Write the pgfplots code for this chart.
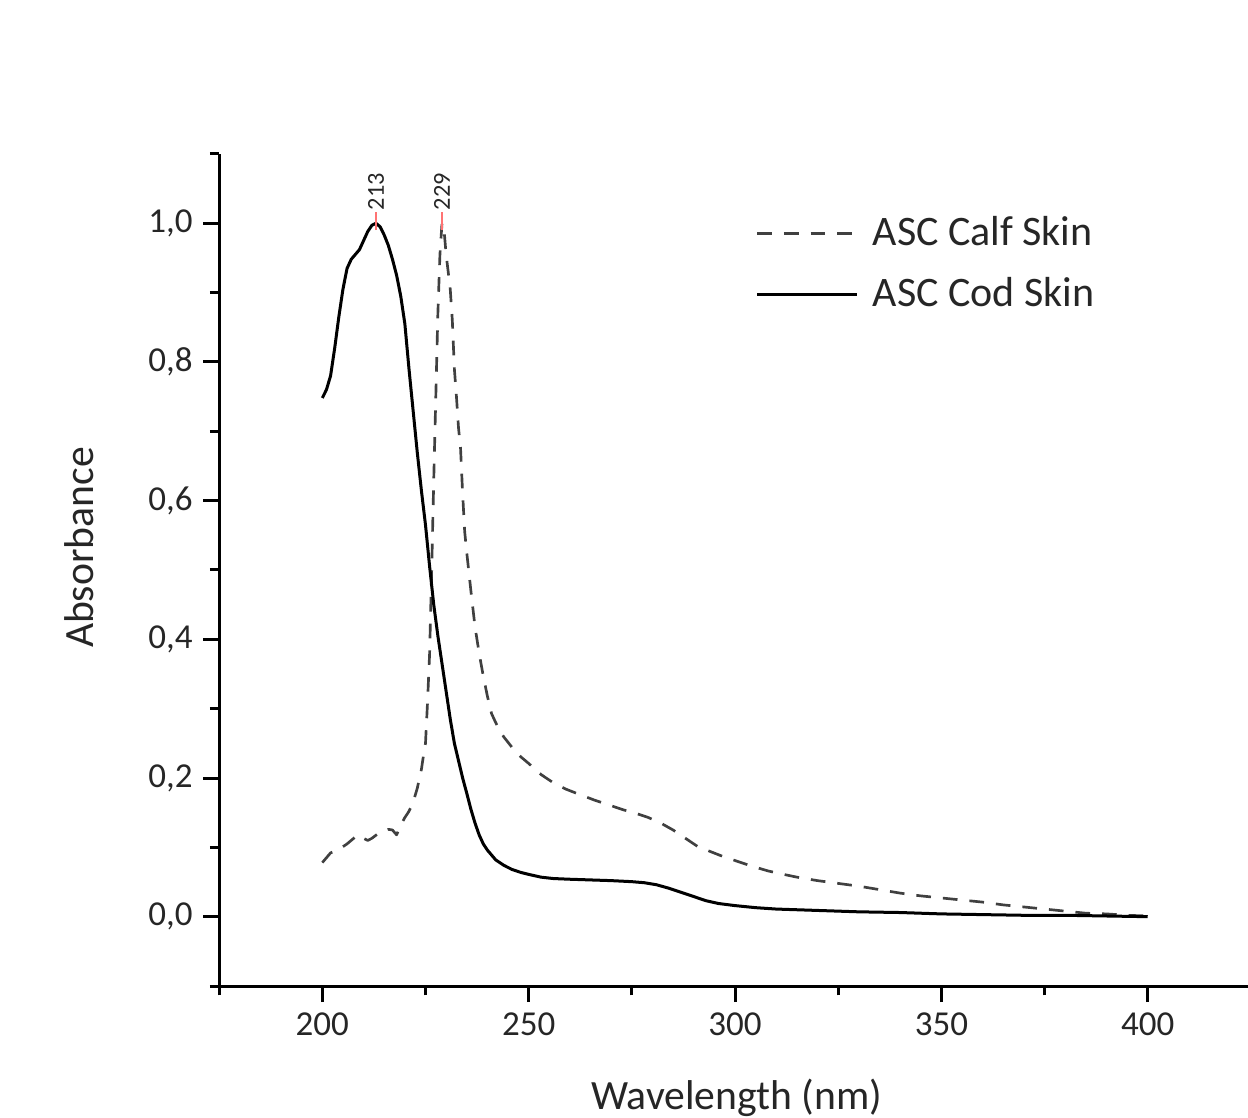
\documentclass[border=0pt]{standalone}
\usepackage{pgfplots}
\pgfplotsset{compat=1.18}
\usepackage{fontspec}
\setmainfont{Carlito}
\begin{document}
\begin{tikzpicture}
\begin{axis}[
  x=1.2381pt, y=208.02pt,
  xmin=175, xmax=425, ymin=-0.1, ymax=1.1,
  axis x line=bottom, axis y line=left,
  axis line style={-, line width=0.9pt, black},
  xtick={200,250,300,350,400}, minor xtick={175,225,275,325,375,425},
  ytick={0,0.2,0.4,0.6,0.8,1.0}, minor ytick={-0.1,0.1,0.3,0.5,0.7,0.9,1.1},
  tick align=outside,
  major tick length=4.8pt, minor tick length=2.8pt,
  every tick/.style={black, line width=0.9pt},
  /pgf/number format/assume math mode=true,
  yticklabel style={/pgf/number format/.cd, fixed, fixed zerofill, precision=1, use comma},
  xticklabel style={/pgf/number format/.cd, fixed, precision=0, 1000 sep={}},
  tick label style={font=\fontsize{10.5}{12}\selectfont, text=black!85},
  tick label style={inner sep=3pt},
  xlabel={Wavelength (nm)}, ylabel={Absorbance},
  label style={font=\fontsize{12.5}{15}\selectfont, text=black!85},
  xlabel style={at={(axis description cs:0.5015,-0.148)}, anchor=base},
  ylabel style={at={(axis description cs:-0.122,0.527)}, anchor=base, rotate=0},
  legend style={draw=none, fill=none, at={(axis description cs:0.5194,0.9255)}, anchor=north west,
    inner xsep=0pt, inner ysep=0pt, font=\fontsize{12.6}{15}\selectfont, text=black!85,
    nodes={inner sep=0pt}, row sep=7.9pt, column sep=4.2pt},
  legend cell align=left,
  legend image code/.code={\draw[#1] (0pt,0pt) -- (30pt,0pt);},
  clip=false,
]
\addplot[black!75, line width=0.8pt, dash pattern=on 4.4pt off 3.6pt, line join=round] coordinates {
(200,0.078)(201,0.085)(202,0.092)(204,0.097)(206,0.105)(208,0.115)(209,0.118)(210,0.113)(211,0.110)(212,0.113)(214,0.122)(216,0.126)(217,0.125)(218,0.118)(219,0.132)(220,0.143)(221,0.152)(222,0.165)(223,0.185)(224,0.212)(224.5,0.232)(225,0.25)(225.5,0.31)(226,0.38)(226.5,0.5)(227,0.63)(227.5,0.75)(228,0.87)(228.5,0.955)(229,1.0)
(229.5,0.99)(230,0.955)(230.5,0.93)(231,0.905)(231.5,0.86)(232,0.79)(232.5,0.75)(233,0.705)(233.5,0.675)(234,0.61)(234.5,0.555)(235,0.525)(236,0.47)(237,0.418)(238,0.38)(239,0.347)(240,0.318)(241,0.293)(242,0.28)(243,0.268)(244,0.259)(246,0.244)(248,0.231)(250,0.221)(253,0.205)(256,0.193)(259,0.184)(262,0.177)(266,0.168)(270,0.16)(273,0.154)(276,0.149)(279,0.143)(282,0.135)(285,0.125)(288,0.113)(291,0.101)(294,0.094)(297,0.087)(300,0.081)(304,0.073)(308,0.066)(311,0.062)(315,0.057)(320,0.052)(325,0.048)(330,0.044)(335,0.039)(340,0.034)(345,0.030)(350,0.027)(355,0.024)(360,0.021)(365,0.017)(370,0.014)(375,0.011)(380,0.008)(385,0.005)(390,0.004)(395,0.002)(400,0.001)
};
\addlegendentry{ASC Calf Skin}
\addplot[black, line width=0.9pt, line join=round] coordinates {
(200,0.748)(201,0.76)(202,0.78)(203,0.82)(204,0.865)(205,0.905)(206,0.935)(207,0.948)(208,0.955)(209,0.962)(210,0.975)(211,0.988)(212,0.997)(213,1.000)(214,0.995)(215,0.983)(216,0.968)(217,0.948)(218,0.925)(219,0.895)(220,0.855)(221,0.79)(222,0.73)(223,0.67)(224,0.615)(225,0.565)(226,0.505)(227,0.45)(228,0.405)(229,0.365)(230,0.325)(231,0.285)(232,0.25)(233,0.225)(234,0.2)(235,0.178)(236,0.155)(237,0.135)(238,0.118)(239,0.105)(240,0.096)(241,0.089)(242,0.082)(244,0.074)(246,0.068)(248,0.064)(250,0.061)(253,0.057)(256,0.055)(260,0.054)(265,0.053)(270,0.052)(275,0.0505)(278,0.049)(281,0.046)(284,0.041)(287,0.035)(290,0.029)(293,0.023)(296,0.019)(300,0.016)(305,0.013)(310,0.011)(315,0.010)(320,0.009)(330,0.007)(340,0.006)(350,0.004)(360,0.003)(370,0.002)(380,0.002)(390,0.001)(400,0.0)
};
\addlegendentry{ASC Cod Skin}
\addplot[red!55, line width=0.6pt, forget plot] coordinates {(213,0.99)(213,1.016)};
\addplot[red!55, line width=0.6pt, forget plot] coordinates {(229,0.99)(229,1.016)};
\node[rotate=90, anchor=west, inner sep=0pt, font=\fontsize{7.3}{8}\selectfont, text=black!85] at (axis cs:213,1.018) {213};
\node[rotate=90, anchor=west, inner sep=0pt, font=\fontsize{7.3}{8}\selectfont, text=black!85] at (axis cs:229,1.018) {229};
\coordinate (bbll) at (axis cs:121.9,-0.2889);
\coordinate (bbur) at (axis cs:424.3,1.3220);
\end{axis}
\pgfresetboundingbox
\path[use as bounding box] (bbll) rectangle (bbur);
\end{tikzpicture}
\end{document}
